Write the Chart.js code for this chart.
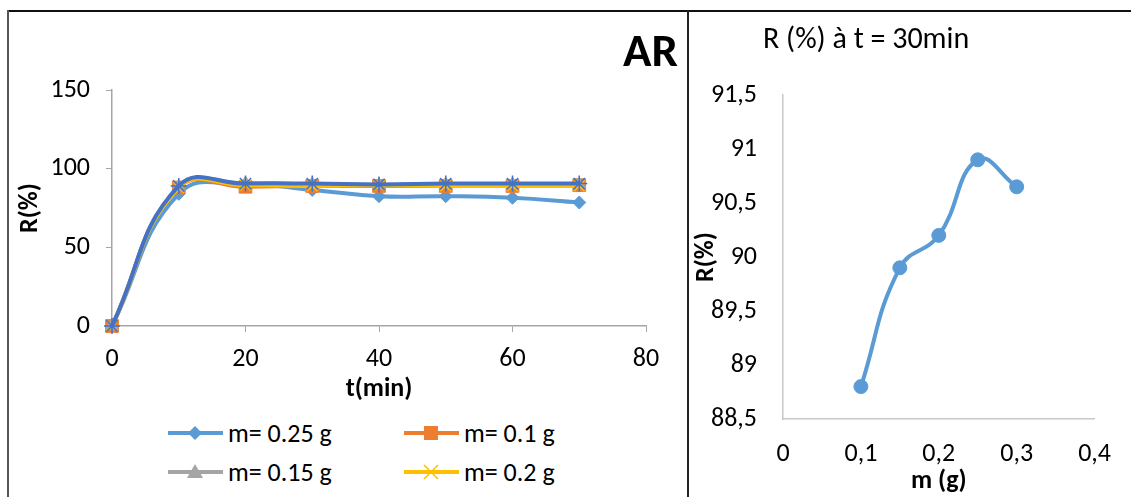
<!DOCTYPE html>
<html>
<head>
<meta charset="utf-8">
<script src="https://cdn.jsdelivr.net/npm/chart.js@4/dist/chart.umd.min.js"></script>
<style>
  body { margin: 0; background: #fff; }
  #page { position: relative; width: 1131px; height: 497px; overflow: hidden; background: #fff;
          font-family: Carlito, Lato, sans-serif; color: #000; }
  .rule { position: absolute; }
  #topRule { left: 8px; top: 10px; width: 1123px; height: 2px; background: #111; }
  #leftRule { left: 7px; top: 10px; width: 2px; height: 487px; background: #555; }
  #midRule { left: 687px; top: 10px; width: 2px; height: 487px; background: #222; }
  canvas { position: absolute; }
  #cvTime { left: 10px; top: 12px; }
  #cvMass { left: 690px; top: 12px; }
  .title { position: absolute; white-space: nowrap; line-height: 1; }
  #arTitle { right: 453px; top: 27px; font-size: 47px; font-weight: bold; }
  #massTitle { left: 763px; top: 23px; font-size: 30px; }
  .leg { position: absolute; display: flex; align-items: center; font-size: 26px; line-height: 32px; white-space: nowrap; }
  .leg svg { margin-right: 5px; }
</style>
</head>
<body>
<div id="page">
  <div class="rule" id="topRule"></div>
  <div class="rule" id="leftRule"></div>
  <div class="rule" id="midRule"></div>
  <canvas id="cvTime" width="677" height="400"></canvas>
  <canvas id="cvMass" width="441" height="485"></canvas>
  <div class="title" id="arTitle">AR</div>
  <div class="title" id="massTitle">R (%) à t = 30min</div>
  <div id="legend"></div>
</div>
<script>
// temps de contact (min) et rendement R(%) pour chaque masse
const temps = [0, 10, 20, 30, 40, 50, 60, 70];
const r_025 = [0, 84, 90, 86.5, 82.5, 82.5, 81.5, 78.5];
const r_01  = [0, 88, 88.5, 89, 89, 89, 89, 89.5];
const r_015 = [0, 88.5, 90.5, 90, 89.5, 90, 90, 90];
const r_02  = [0, 88, 89.5, 89, 89.5, 89, 89, 89];
const r_03  = [0, 89, 90.5, 90.5, 90, 90.5, 90.5, 90.5];

// R(%) à 30 min selon la masse d'adsorbant
const masses = [0.1, 0.15, 0.2, 0.25, 0.3];
const r_30min = [88.8, 89.9, 90.2, 90.9, 90.65];

const FONT = "Carlito, Lato, sans-serif";
const BLEU = "#5B9BD5", ORANGE = "#ED7D31", GRIS = "#A5A5A5", JAUNE = "#FFC000", BLEU_FONCE = "#4472C4";

const toPts = (xs, ys) => xs.map((x, i) => ({ x: x, y: ys[i] }));
const virgule = v => String(+v.toFixed(2)).replace(".", ",");

const series = [
  { label: "m= 0.25 g", data: r_025, color: BLEU, style: "rectRot", radius: 6.5 },
  { label: "m= 0.1 g", data: r_01, color: ORANGE, style: "rect", radius: 9 },
  { label: "m= 0.15 g", data: r_015, color: GRIS, style: "triangle", radius: 7.5 },
  { label: "m= 0.2 g", data: r_02, color: JAUNE, style: "crossRot", radius: 7.5 },
  { label: "m= 0.3 g", data: r_03, color: BLEU_FONCE, style: "star", radius: 8, noLegend: true }
];

Chart.defaults.font.family = FONT;
Chart.defaults.color = "#000";

new Chart(document.getElementById("cvTime"), {
  type: "line",
  data: {
    datasets: series.map((s, i) => ({
      label: s.label,
      data: toPts(temps, s.data),
      borderColor: s.color,
      backgroundColor: s.color,
      borderWidth: 4,
      tension: 0.45,
      clip: false,
      pointStyle: s.style,
      pointRadius: s.radius,
      pointBorderWidth: s.style === "crossRot" || s.style === "star" ? 1.5 : 1,
      pointBorderColor: s.color,
      order: series.length - i   // la dernière série passe au-dessus
    }))
  },
  options: {
    responsive: false,
    animation: false,
    layout: { padding: { left: 0, top: 78, right: 41, bottom: 0 } },
    plugins: { legend: { display: false }, tooltip: { enabled: false } },
    scales: {
      x: {
        type: "linear", min: 0, max: 80,
        ticks: { stepSize: 20, padding: 12, font: { size: 26 } },
        grid: { drawOnChartArea: false, tickLength: 6, color: "#A6A6A6" },
        border: { color: "#A6A6A6", width: 1.5 },
        title: { display: true, text: "t(min)", font: { size: 26, weight: "bold" }, padding: { top: 0, bottom: 7 } },
        afterFit: s => { s.height = 86; }
      },
      y: {
        min: 0, max: 150,
        ticks: { stepSize: 50, padding: 16, font: { size: 26 } },
        grid: { drawOnChartArea: false, tickLength: 6, color: "#A6A6A6" },
        border: { color: "#A6A6A6", width: 1.5 },
        title: { display: true, text: "R(%)", font: { size: 26, weight: "bold" }, padding: { top: 5, bottom: 0 } },
        afterFit: s => { s.width = 102; }
      }
    }
  }
});

new Chart(document.getElementById("cvMass"), {
  type: "line",
  data: {
    datasets: [{
      label: "R (%) à t = 30min",
      data: toPts(masses, r_30min),
      borderColor: BLEU,
      backgroundColor: BLEU,
      borderWidth: 4,
      tension: 0.45,
      clip: false,
      pointRadius: 7,
      pointBorderWidth: 1
    }]
  },
  options: {
    responsive: false,
    animation: false,
    layout: { padding: { left: 0, top: 83, right: 23, bottom: 0 } },
    plugins: { legend: { display: false }, tooltip: { enabled: false } },
    scales: {
      x: {
        type: "linear", min: 0, max: 0.4,
        ticks: { stepSize: 0.1, padding: 20, font: { size: 26 }, callback: virgule },
        grid: { drawOnChartArea: false, drawTicks: false },
        border: { color: "#C8C8C8", width: 1.5 },
        title: { display: true, text: "m (g)", font: { size: 26, weight: "bold" }, padding: { top: 0, bottom: 0 } },
        afterFit: s => { s.height = 78; }
      },
      y: {
        min: 88.5, max: 91.5,
        ticks: { stepSize: 0.5, padding: 26, font: { size: 26 }, callback: virgule },
        grid: { drawOnChartArea: false, drawTicks: false },
        border: { color: "#C8C8C8", width: 1.5 },
        title: { display: true, text: "R(%)", font: { size: 26, weight: "bold" }, padding: { top: 1, bottom: 0 } },
        afterFit: s => { s.width = 93; }
      }
    }
  }
});

// légende en deux colonnes sous le graphique de gauche
function markerSvg(style, color) {
  const c = 27, m = 12;
  let shape = "";
  if (style === "rectRot") shape = `<polygon points="${c-7},${m} ${c},${m-7} ${c+7},${m} ${c},${m+7}" fill="${color}"/>`;
  if (style === "rect") shape = `<rect x="${c-7}" y="${m-7}" width="14" height="14" fill="${color}"/>`;
  if (style === "triangle") shape = `<polygon points="${c-8},${m+6} ${c},${m-8} ${c+8},${m+6}" fill="${color}"/>`;
  if (style === "crossRot") shape = `<path d="M${c-7},${m-7}L${c+7},${m+7}M${c-7},${m+7}L${c+7},${m-7}" stroke="${color}" stroke-width="1.5"/>`;
  return `<svg width="55" height="24"><line x1="0" y1="${m}" x2="55" y2="${m}" stroke="${color}" stroke-width="4"/>${shape}</svg>`;
}
const legendPos = [[168, 417], [404, 417], [168, 456], [404, 456]];
const legend = document.getElementById("legend");
series.filter(s => !s.noLegend).forEach((s, i) => {
  const el = document.createElement("div");
  el.className = "leg";
  el.style.left = legendPos[i][0] + "px";
  el.style.top = legendPos[i][1] + "px";
  el.innerHTML = markerSvg(s.style, s.color) + "<span>" + s.label + "</span>";
  legend.appendChild(el);
});
</script>
</body>
</html>
